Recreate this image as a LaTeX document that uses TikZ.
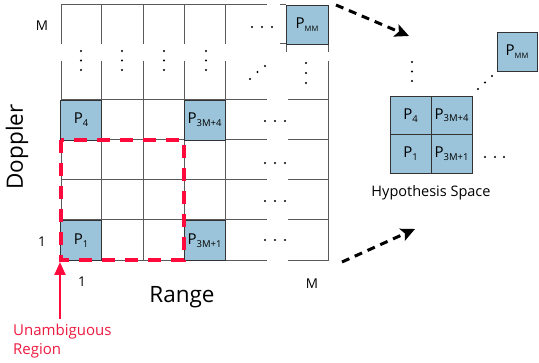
\documentclass[tikz,border=0pt]{standalone}
\usepackage{fontspec}
\setmainfont{Open Sans}
\usetikzlibrary{arrows.meta}
\definecolor{boxblue}{HTML}{9BC4DA}
\definecolor{gridgray}{HTML}{5A5A5A}
\definecolor{regred}{HTML}{FF0A3C}
\definecolor{txtred}{HTML}{EC1A40}
\newcommand\psub[2][9.5]{P\raisebox{-2.8pt}{\fontsize{#1}{#1}\selectfont #2}}
\tikzset{
  pbox/.style={draw=black!80, line width=0.9pt, fill=boxblue, inner sep=0pt,
    minimum width=41pt, minimum height=40pt, font=\fontsize{15}{15}\selectfont},
  gridline/.style={draw=gridgray, line width=1pt},
  lbl/.style={font=\fontsize{13.5}{13.5}\selectfont, inner sep=0pt},
  axis/.style={font=\fontsize{22.5}{22.5}\selectfont, inner sep=0pt},
  bigarrow/.style={line width=3pt, dash pattern=on 8pt off 6pt,
    -{Stealth[length=14pt,width=13pt,inset=3pt]}},
  dotc/.style={fill=black, draw=none},
}
\begin{document}
\begin{tikzpicture}[x=1pt,y=-1pt]
\useasboundingbox (0,0) rectangle (539,363);
% grid lines
\draw[gridline] (61,5) -- (267,5);
\draw[gridline] (280,5) -- (286,5) (280,44) -- (286,44);
\foreach \x in {61,101,143,184,225} {
  \draw[gridline] (\x,5) -- (\x,44);
  \draw[gridline] (\x,61) -- (\x,261);
}
\draw[gridline] (286,44) -- (286,52) (328,44) -- (328,52);
\draw[gridline] (328,61) -- (328,261);
\foreach \y in {100,140,180,220,261} {
  \draw[gridline] (61,\y) -- (267,\y);
  \draw[gridline] (288,\y) -- (328,\y);
}
% blue boxes in grid
\node[pbox] (p4) at (81,120) {\psub{4}};
\node[pbox] (p3m4) at (204.5,120) {\psub{3M+4}};
\node[pbox] (p1) at (81,240.5) {\psub{1}};
\node[pbox] (p3m1) at (204.5,240.5) {\psub{3M+1}};
\node[pbox, minimum width=42pt, minimum height=39pt] (pmm) at (307,24.5) {\psub[7.5]{MM}};
% dots in grid
\foreach \x in {81,122,164,206} \foreach \y in {51,60.5,70} \fill[dotc] (\x,\y) circle (1.2pt);
\foreach \y in {63,73,83} \fill[dotc] (306,\y) circle (1.2pt);
\foreach \p in {(250,79),(257.5,72),(265,66)} \fill[dotc] \p circle (1.2pt);
\foreach \x in {252,262,272} \fill[dotc] (\x,27) circle (1.2pt);
\foreach \y in {121,163,201,240} \foreach \x in {265,275,285} \fill[dotc] (\x,\y) circle (1.2pt);
% unambiguous region
\draw[regred, line width=3.5pt, dash pattern=on 13pt off 10pt] (61,140) rectangle (184,260);
% axis labels
\node[lbl] (mleft) at (42,26) {M};
\node[lbl] (oneleft) at (42,242) {1};
\node[lbl] (onebot) at (82,282) {1};
\node[lbl] (mbot) at (312,284) {M};
\node[axis] (range) at (182,297) {Range};
\node[axis, rotate=90] (doppler) at (17,147) {Doppler};
\node[anchor=west, align=left, text=txtred, inner sep=0pt,
  font=\fontsize{15}{18.5}\selectfont] (ureg) at (13,341) {Unambiguous\\Region};
\coordinate (urtop) at (60,319);
\coordinate (urtip) at (60,262);
\draw[regred, line width=2.2pt, -{Triangle[length=13pt,width=11pt]}] (urtop) -- (urtip);
% hypothesis space
\node[pbox, minimum height=38.5pt] (hp4) at (410.5,115.25) {\psub{4}};
\node[pbox, minimum height=38.5pt] (hp3m4) at (451.5,115.25) {\psub{3M+4}};
\node[pbox, minimum height=38.5pt] (hp1) at (410.5,153.75) {\psub{1}};
\node[pbox, minimum height=38.5pt] (hp3m1) at (451.5,153.75) {\psub{3M+1}};
\node[pbox, minimum width=40pt, minimum height=39pt] (hpmm) at (517,51.5) {\psub[7.5]{MM}};
\foreach \y in {62,71.5,81} \fill[dotc] (412,\y) circle (1.2pt);
\foreach \p in {(478,89),(485,82.5),(492,76)} \fill[dotc] \p circle (1.2pt);
\foreach \x in {485,495,504} \fill[dotc] (\x,157) circle (1.2pt);
\node[font=\fontsize{14.5}{14.5}\selectfont, inner sep=0pt] (hyp) at (431,193) {Hypothesis Space};
% dashed arrows
\coordinate (a1s) at (336,5);
\coordinate (a1e) at (409,36);
\coordinate (a2s) at (342,262);
\coordinate (a2e) at (415,229);
\draw[bigarrow] (a1s) -- (a1e);
\draw[bigarrow] (a2s) -- (a2e);
\end{tikzpicture}
\end{document}
